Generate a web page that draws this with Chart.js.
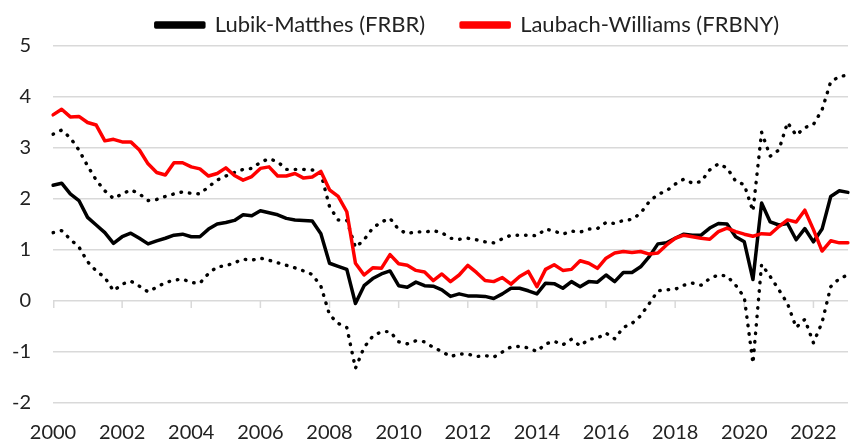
<!DOCTYPE html>
<html><head><meta charset="utf-8">
<script src="https://cdn.jsdelivr.net/npm/chart.js@4/dist/chart.umd.min.js"></script>
<style>html,body{margin:0;padding:0;background:#fff}#wrap{width:866px;height:445px;position:relative}</style>
</head><body><div id="wrap"><canvas id="c"></canvas></div>
<script>
// Quarterly categories 2000Q1 .. 2023Q1
const quarters = [];
for (let y = 2000; y <= 2023; y++) for (let q = 1; q <= 4; q++) { if (y === 2023 && q > 1) break; quarters.push(y + 'Q' + q); }

const lubikMatthes = [2.27,2.31,2.10,1.97,1.64,1.49,1.34,1.13,1.26,1.33,1.23,1.12,1.18,1.23,1.29,1.31,1.26,1.26,1.41,1.51,
1.54,1.58,1.69,1.67,1.77,1.73,1.69,1.62,1.59,1.58,1.57,1.32,0.74,0.68,0.62,-0.05,0.30,0.44,0.53,0.59,
0.30,0.27,0.37,0.30,0.29,0.22,0.09,0.14,0.10,0.10,0.09,0.05,0.14,0.25,0.25,0.20,0.14,0.35,0.34,0.25,
0.38,0.28,0.38,0.37,0.51,0.38,0.56,0.56,0.67,0.87,1.12,1.14,1.23,1.31,1.29,1.29,1.43,1.52,1.51,1.26,
1.16,0.42,1.92,1.55,1.49,1.52,1.20,1.42,1.16,1.41,2.05,2.16,2.13];

const laubachWilliams = [3.65,3.76,3.61,3.62,3.50,3.45,3.14,3.17,3.12,3.12,2.96,2.69,2.52,2.47,2.71,2.71,2.63,2.59,2.45,2.50,
2.61,2.46,2.37,2.44,2.60,2.63,2.45,2.45,2.50,2.41,2.43,2.54,2.18,2.05,1.75,0.74,0.51,0.65,0.64,0.91,
0.73,0.70,0.60,0.57,0.40,0.53,0.38,0.51,0.70,0.56,0.40,0.38,0.46,0.33,0.48,0.58,0.28,0.62,0.71,0.60,
0.62,0.79,0.74,0.64,0.84,0.94,0.97,0.95,0.97,0.92,0.94,1.10,1.23,1.29,1.26,1.23,1.21,1.36,1.43,1.36,
1.31,1.27,1.32,1.31,1.46,1.59,1.55,1.78,1.40,0.98,1.18,1.14,1.14];

const lmUpper = [3.27,3.35,3.20,2.96,2.65,2.37,2.16,2.01,2.10,2.18,2.10,1.97,1.99,2.05,2.10,2.14,2.11,2.10,2.24,2.37,
2.45,2.52,2.58,2.60,2.72,2.79,2.73,2.58,2.58,2.58,2.57,2.50,1.85,1.59,1.58,1.05,1.20,1.43,1.55,1.62,
1.40,1.32,1.36,1.35,1.38,1.34,1.23,1.21,1.23,1.20,1.16,1.14,1.22,1.29,1.29,1.29,1.28,1.41,1.37,1.31,
1.37,1.35,1.41,1.42,1.54,1.52,1.58,1.60,1.72,1.95,2.09,2.16,2.29,2.39,2.31,2.34,2.57,2.69,2.61,2.35,
2.28,1.76,3.31,2.84,2.96,3.50,3.25,3.40,3.46,3.75,4.30,4.40,4.43];

const lmLower = [1.34,1.38,1.21,1.06,0.77,0.59,0.46,0.20,0.33,0.39,0.29,0.18,0.27,0.36,0.41,0.43,0.36,0.35,0.54,0.67,
0.69,0.75,0.82,0.80,0.84,0.80,0.75,0.70,0.65,0.59,0.52,0.29,-0.27,-0.44,-0.52,-1.32,-0.91,-0.69,-0.60,-0.60,
-0.80,-0.84,-0.78,-0.80,-0.91,-0.99,-1.09,-1.04,-1.04,-1.09,-1.07,-1.10,-1.00,-0.90,-0.89,-0.92,-0.99,-0.84,-0.79,-0.86,
-0.75,-0.88,-0.75,-0.73,-0.63,-0.74,-0.52,-0.44,-0.29,-0.05,0.20,0.22,0.23,0.31,0.35,0.31,0.44,0.51,0.49,0.31,
0.07,-1.22,0.72,0.48,0.22,-0.05,-0.52,-0.36,-0.82,-0.42,0.28,0.44,0.51];

const seriesNames = ['Lubik-Matthes (FRBR)', 'Laubach-Williams (FRBNY)'];
const yTicks = { min: -2, max: 5, step: 1 };

const FONT = 'Lato';
const TXT = '#222222';
const GRID = '#d9d9d9';

const zeroTicks = {
  id: 'zeroTicks',
  beforeDraw(chart) {
    const L = chart.legend;
    if (L && !L._shifted) { L.left += 17; L.right += 17; L._shifted = true; }
  },
  beforeDatasetsDraw(chart) {
    const xs = chart.scales.x, ys = chart.scales.y, ctx = chart.ctx;
    const y0 = ys.getPixelForValue(0);
    ctx.save();
    ctx.strokeStyle = GRID; ctx.lineWidth = 1.5;
    for (let i = 0; i < quarters.length; i += 8) {
      const x = Math.max(xs.getPixelForValue(i), xs.left + 0.75);
      ctx.beginPath(); ctx.moveTo(x, y0); ctx.lineTo(x, y0 + 7); ctx.stroke();
    }
    ctx.restore();
  }
};

new Chart(document.getElementById('c'), {
  type: 'line',
  data: {
    labels: quarters,
    datasets: [
      { label: seriesNames[0], data: lubikMatthes, borderColor: '#000000', backgroundColor: '#000000', borderWidth: 3.5, order: 1 },
      { label: seriesNames[1], data: laubachWilliams, borderColor: '#ff0000', backgroundColor: '#ff0000', borderWidth: 3.5, order: 0 },
      { label: 'upper', data: lmUpper, borderColor: '#000000', backgroundColor: '#000000', borderWidth: 3.4, borderDash: [0.5, 8], borderCapStyle: 'round', order: 2 },
      { label: 'lower', data: lmLower, borderColor: '#000000', backgroundColor: '#000000', borderWidth: 3.4, borderDash: [0.5, 8], borderCapStyle: 'round', order: 3 }
    ]
  },
  options: {
    responsive: true, maintainAspectRatio: false, animation: false, devicePixelRatio: 1,
    layout: { padding: { top: -22, left: 0, right: 0, bottom: 0 } },
    elements: { point: { radius: 0 }, line: { tension: 0, borderJoinStyle: 'round', borderCapStyle: 'round' } },
    plugins: {
      tooltip: { enabled: false },
      legend: {
        position: 'top', fullSize: false,
        labels: {
          font: { family: FONT, size: 22 }, color: TXT, boxWidth: 48, boxHeight: 4, padding: 36,
          filter: (it) => it.datasetIndex < 2,
          sort: (a, b) => a.datasetIndex - b.datasetIndex
        }
      }
    },
    scales: {
      x: {
        type: 'category',
        grid: { display: false, drawTicks: false },
        border: { display: false },
        ticks: {
          autoSkip: false, maxRotation: 0, minRotation: 0, padding: 18,
          font: { family: FONT, size: 20 }, color: TXT,
          callback: (v, i) => (i % 8 === 0 ? quarters[i].slice(0, 4) : '')
        },
        afterFit: (s) => { s.height = 42; }
      },
      y: {
        min: yTicks.min, max: yTicks.max,
        grid: { color: GRID, lineWidth: 1.5, drawTicks: false },
        border: { display: false },
        ticks: { stepSize: yTicks.step, padding: 22, font: { family: FONT, size: 20 }, color: TXT },
        afterFit: (s) => { s.width = 53; }
      }
    }
  },
  plugins: [zeroTicks]
});
</script></body></html>
